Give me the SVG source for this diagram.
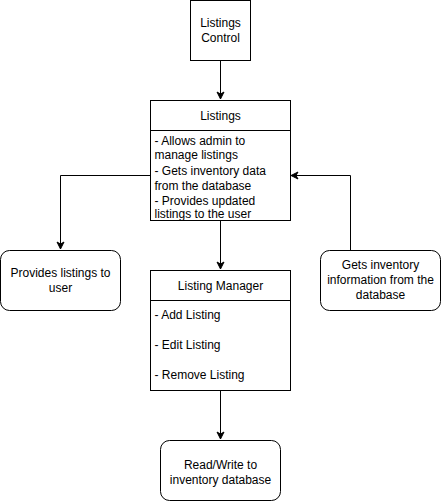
<svg xmlns="http://www.w3.org/2000/svg" width="441" height="501" viewBox="0 0 441 501">
<style>
.box{fill:#fff;stroke:#000;stroke-width:1}
.t{font-family:"Liberation Sans",Arial,sans-serif;font-size:12px;fill:#000}
.c{text-anchor:middle}
.edge{fill:none;stroke:#000;stroke-width:1}
</style>
<defs>
<marker id="arr" markerWidth="10" markerHeight="10" refX="8" refY="5" orient="auto" markerUnits="userSpaceOnUse">
<path d="M1,1.5 L8,5 L1,8.5 L3,5 Z" fill="#000" stroke="#000" stroke-width="1"/>
</marker>
</defs>
<rect width="441" height="501" fill="#fff"/>
<g id="connectors">
<path class="edge" d="M220.5,60 V99" marker-end="url(#arr)"/>
<path class="edge" d="M150,175.5 H60.5 V249" marker-end="url(#arr)"/>
<path class="edge" d="M350.5,250 V175.5 H291" marker-end="url(#arr)"/>
<path class="edge" d="M220.5,220 V269" marker-end="url(#arr)"/>
<path class="edge" d="M220.5,390 V439" marker-end="url(#arr)"/>
</g>
<g id="listings-control">
<rect class="box" x="190.5" y="0.5" width="60" height="60"/>
<text class="t c" x="220.5" y="26.5">Listings</text>
<text class="t c" x="220.5" y="41.5">Control</text>
</g>
<g id="listings">
<rect class="box" x="150.5" y="100.5" width="140" height="120"/>
<line class="edge" x1="150.5" y1="130.5" x2="290.5" y2="130.5"/>
<text class="t c" x="220.5" y="119.5">Listings</text>
<text class="t" x="154.5" y="144.5">- Allows admin to</text>
<text class="t" x="154.5" y="159">manage listings</text>
<text class="t" x="154.5" y="175">- Gets inventory data</text>
<text class="t" x="154.5" y="189.5">from the database</text>
<text class="t" x="154.5" y="205">- Provides updated</text>
<text class="t" x="154.5" y="218">listings to the user</text>
</g>
<g id="provides-listings">
<rect class="box" x="0.5" y="250.5" width="120" height="60" rx="9"/>
<text class="t c" x="60.5" y="276.5">Provides listings to</text>
<text class="t c" x="60.5" y="291.5">user</text>
</g>
<g id="gets-inventory">
<rect class="box" x="320.5" y="250.5" width="120" height="60" rx="9"/>
<text class="t c" x="380.5" y="269">Gets inventory</text>
<text class="t c" x="380.5" y="284">information from the</text>
<text class="t c" x="380.5" y="299">database</text>
</g>
<g id="listing-manager">
<rect class="box" x="150.5" y="270.5" width="140" height="120"/>
<line class="edge" x1="150.5" y1="300.5" x2="290.5" y2="300.5"/>
<text class="t c" x="220.5" y="289.5">Listing Manager</text>
<text class="t" x="154.5" y="319">- Add Listing</text>
<text class="t" x="154.5" y="349">- Edit Listing</text>
<text class="t" x="154.5" y="379">- Remove Listing</text>
</g>
<g id="read-write">
<rect class="box" x="160.5" y="440.5" width="120" height="60" rx="9"/>
<text class="t c" x="220.5" y="469">Read/Write to</text>
<text class="t c" x="220.5" y="484">inventory database</text>
</g>
</svg>
